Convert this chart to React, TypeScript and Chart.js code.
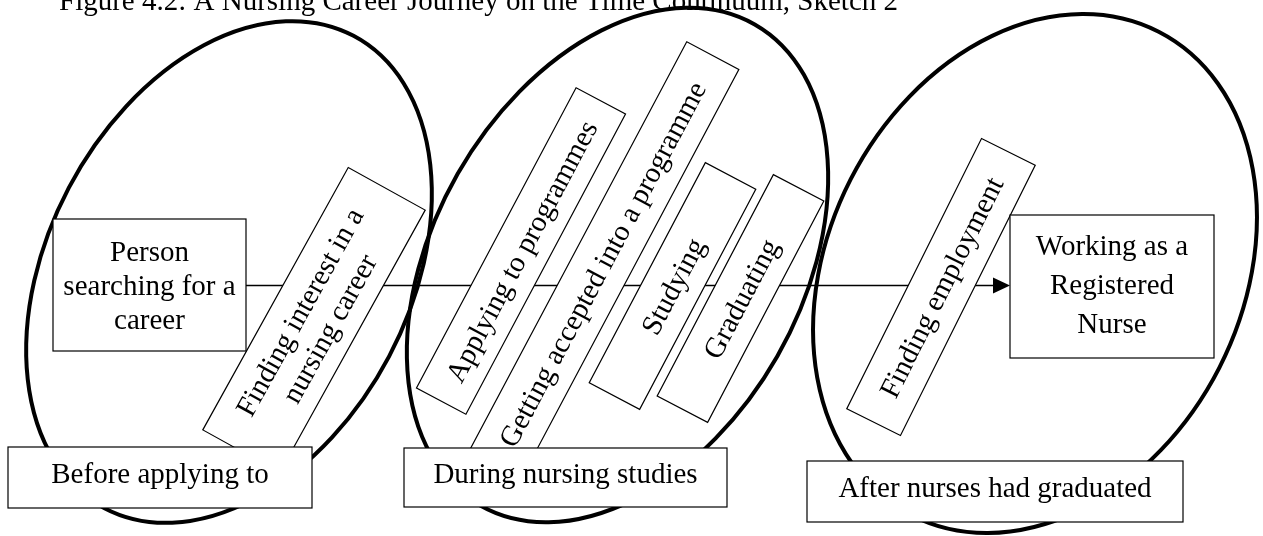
import React, { useEffect, useRef } from "react";
import { Chart, registerables } from "chart.js";

Chart.register(...registerables);

// ---------- diagram content (coordinates are in axis units of the chart) ----------
const TITLE = "Figure 4.2: A Nursing Career Journey on the Time Continuum, Sketch 2";
const titleX = 59;
const titleY = 10;

// the three phase ellipses
const ellipseCx = [229, 617.5, 1035];
const ellipseCy = [272, 265, 273.5];
const ellipseMajor = [267, 277, 271.5];
const ellipseMinor = [181, 184, 207];
const ellipseTiltDeg = [27.8, 29.7, 27.1];

// phase label boxes
const phaseLabels = ["Before applying to", "During nursing studies", "After nurses had graduated"];
const phaseX0 = [8, 404, 807];
const phaseX1 = [312, 727, 1183];
const phaseY0 = [447, 448, 461];
const phaseY1 = [508, 507, 522];
const phaseBaseline = [483, 483, 497];

// start / end nodes
const nodeLabels = [
  ["Person", "searching for a", "career"],
  ["Working as a", "Registered", "Nurse"],
];
const nodeX0 = [53, 1010];
const nodeX1 = [246, 1214];
const nodeY0 = [219, 215];
const nodeY1 = [351, 358];
const nodeFirstBaseline = [261, 255];
const nodeLineGap = [34, 39];

// tilted step boxes along the time line
const stepLabels = [
  ["Finding interest in a", "nursing career"],
  ["Applying to programmes"],
  ["Getting accepted into a programme"],
  ["Studying"],
  ["Graduating"],
  ["Finding employment"],
];
const stepCx = [314, 521, 602, 672.5, 740.5, 941];
const stepCy = [320, 251, 264, 286, 298.5, 287];
const stepLength = [300, 340, 472, 249, 250, 302];
const stepWidth = [88, 56, 59, 57, 57, 60];
const stepTiltDeg = [61, 62, 62, 62.2, 62.3, 63.5];
const stepLineGap = 34;

// time line (connector) with arrow into the last node
const connectorX = [246, 1010];
const connectorY = [285.5, 285.5];

const FONT = '29px "Liberation Serif", "Times New Roman", serif';

const diagramPlugin = {
  id: "diagram",
  afterDatasetsDraw(chart: any) {
    const { ctx, scales } = chart;
    const xs = scales.x;
    const ys = scales.y;
    const X = (v: number) => xs.getPixelForValue(v);
    const Y = (v: number) => ys.getPixelForValue(v);
    const kx = Math.abs(X(1) - X(0));
    const ky = Math.abs(Y(1) - Y(0));

    ctx.save();
    ctx.font = FONT;
    ctx.fillStyle = "#000";
    ctx.strokeStyle = "#000";

    // tilted step boxes
    stepLabels.forEach((lines, i) => {
      ctx.save();
      ctx.translate(X(stepCx[i]), Y(stepCy[i]));
      ctx.rotate((-stepTiltDeg[i] * Math.PI) / 180);
      const L = stepLength[i] * kx;
      const W = stepWidth[i] * kx;
      ctx.fillStyle = "#fff";
      ctx.fillRect(-L / 2, -W / 2, L, W);
      ctx.lineWidth = 1.2;
      ctx.strokeRect(-L / 2, -W / 2, L, W);
      ctx.fillStyle = "#000";
      ctx.textAlign = "center";
      ctx.textBaseline = "alphabetic";
      const n = lines.length;
      lines.forEach((t, j) => {
        const off = (j - (n - 1) / 2) * stepLineGap * ky;
        ctx.fillText(t, 0, off + 10);
      });
      ctx.restore();
    });

    // phase ellipses
    ctx.lineWidth = 4;
    ellipseCx.forEach((cx, i) => {
      ctx.beginPath();
      ctx.ellipse(
        X(cx),
        Y(ellipseCy[i]),
        ellipseMinor[i] * kx,
        ellipseMajor[i] * ky,
        (ellipseTiltDeg[i] * Math.PI) / 180,
        0,
        Math.PI * 2
      );
      ctx.stroke();
    });

    // start / end nodes
    ctx.lineWidth = 1.2;
    nodeLabels.forEach((lines, i) => {
      const x0 = X(nodeX0[i]);
      const x1 = X(nodeX1[i]);
      const y0 = Y(nodeY0[i]);
      const y1 = Y(nodeY1[i]);
      ctx.fillStyle = "#fff";
      ctx.fillRect(x0, y0, x1 - x0, y1 - y0);
      ctx.strokeRect(x0, y0, x1 - x0, y1 - y0);
      ctx.fillStyle = "#000";
      ctx.textAlign = "center";
      ctx.textBaseline = "alphabetic";
      lines.forEach((t, j) => {
        ctx.fillText(t, (x0 + x1) / 2, Y(nodeFirstBaseline[i] + j * nodeLineGap[i]));
      });
    });

    // arrow head on the time line
    const tipX = X(connectorX[1]);
    const tipY = Y(connectorY[1]);
    ctx.beginPath();
    ctx.moveTo(tipX, tipY);
    ctx.lineTo(tipX - 17, tipY - 8);
    ctx.lineTo(tipX - 17, tipY + 8);
    ctx.closePath();
    ctx.fill();

    // phase boxes
    phaseLabels.forEach((t, i) => {
      const x0 = X(phaseX0[i]);
      const x1 = X(phaseX1[i]);
      const y0 = Y(phaseY0[i]);
      const y1 = Y(phaseY1[i]);
      ctx.fillStyle = "#fff";
      ctx.fillRect(x0, y0, x1 - x0, y1 - y0);
      ctx.strokeRect(x0, y0, x1 - x0, y1 - y0);
      ctx.fillStyle = "#000";
      ctx.textAlign = "center";
      ctx.textBaseline = "alphabetic";
      ctx.fillText(t, (x0 + x1) / 2, Y(phaseBaseline[i]));
    });

    // title (cut at the top edge, as in the source)
    ctx.textAlign = "left";
    ctx.textBaseline = "alphabetic";
    ctx.fillText(TITLE, X(titleX), Y(titleY));

    ctx.restore();
  },
};

export default function App() {
  const canvasRef = useRef<HTMLCanvasElement | null>(null);

  useEffect(() => {
    if (!canvasRef.current) return;
    const chart = new Chart(canvasRef.current, {
      type: "scatter",
      data: {
        datasets: [
          {
            type: "line",
            data: connectorX.map((x, i) => ({ x: i === 1 ? x - 15 : x, y: connectorY[i] })),
            borderColor: "#000",
            borderWidth: 1.5,
            pointRadius: 0,
            fill: false,
          } as any,
        ],
      },
      options: {
        animation: false,
        responsive: true,
        maintainAspectRatio: false,
        layout: { padding: 0 },
        scales: {
          x: { type: "linear", min: 0, max: 1263, display: false },
          y: { type: "linear", min: 0, max: 536, reverse: true, display: false },
        },
        plugins: {
          legend: { display: false },
          tooltip: { enabled: false },
          title: { display: false },
        },
      },
      plugins: [diagramPlugin],
    });
    return () => chart.destroy();
  }, []);

  return (
    <div
      style={{
        position: "absolute",
        left: 0,
        top: 0,
        width: 1263,
        height: 536,
        background: "#fff",
      }}
    >
      <canvas ref={canvasRef} style={{ display: "block" }} />
    </div>
  );
}
